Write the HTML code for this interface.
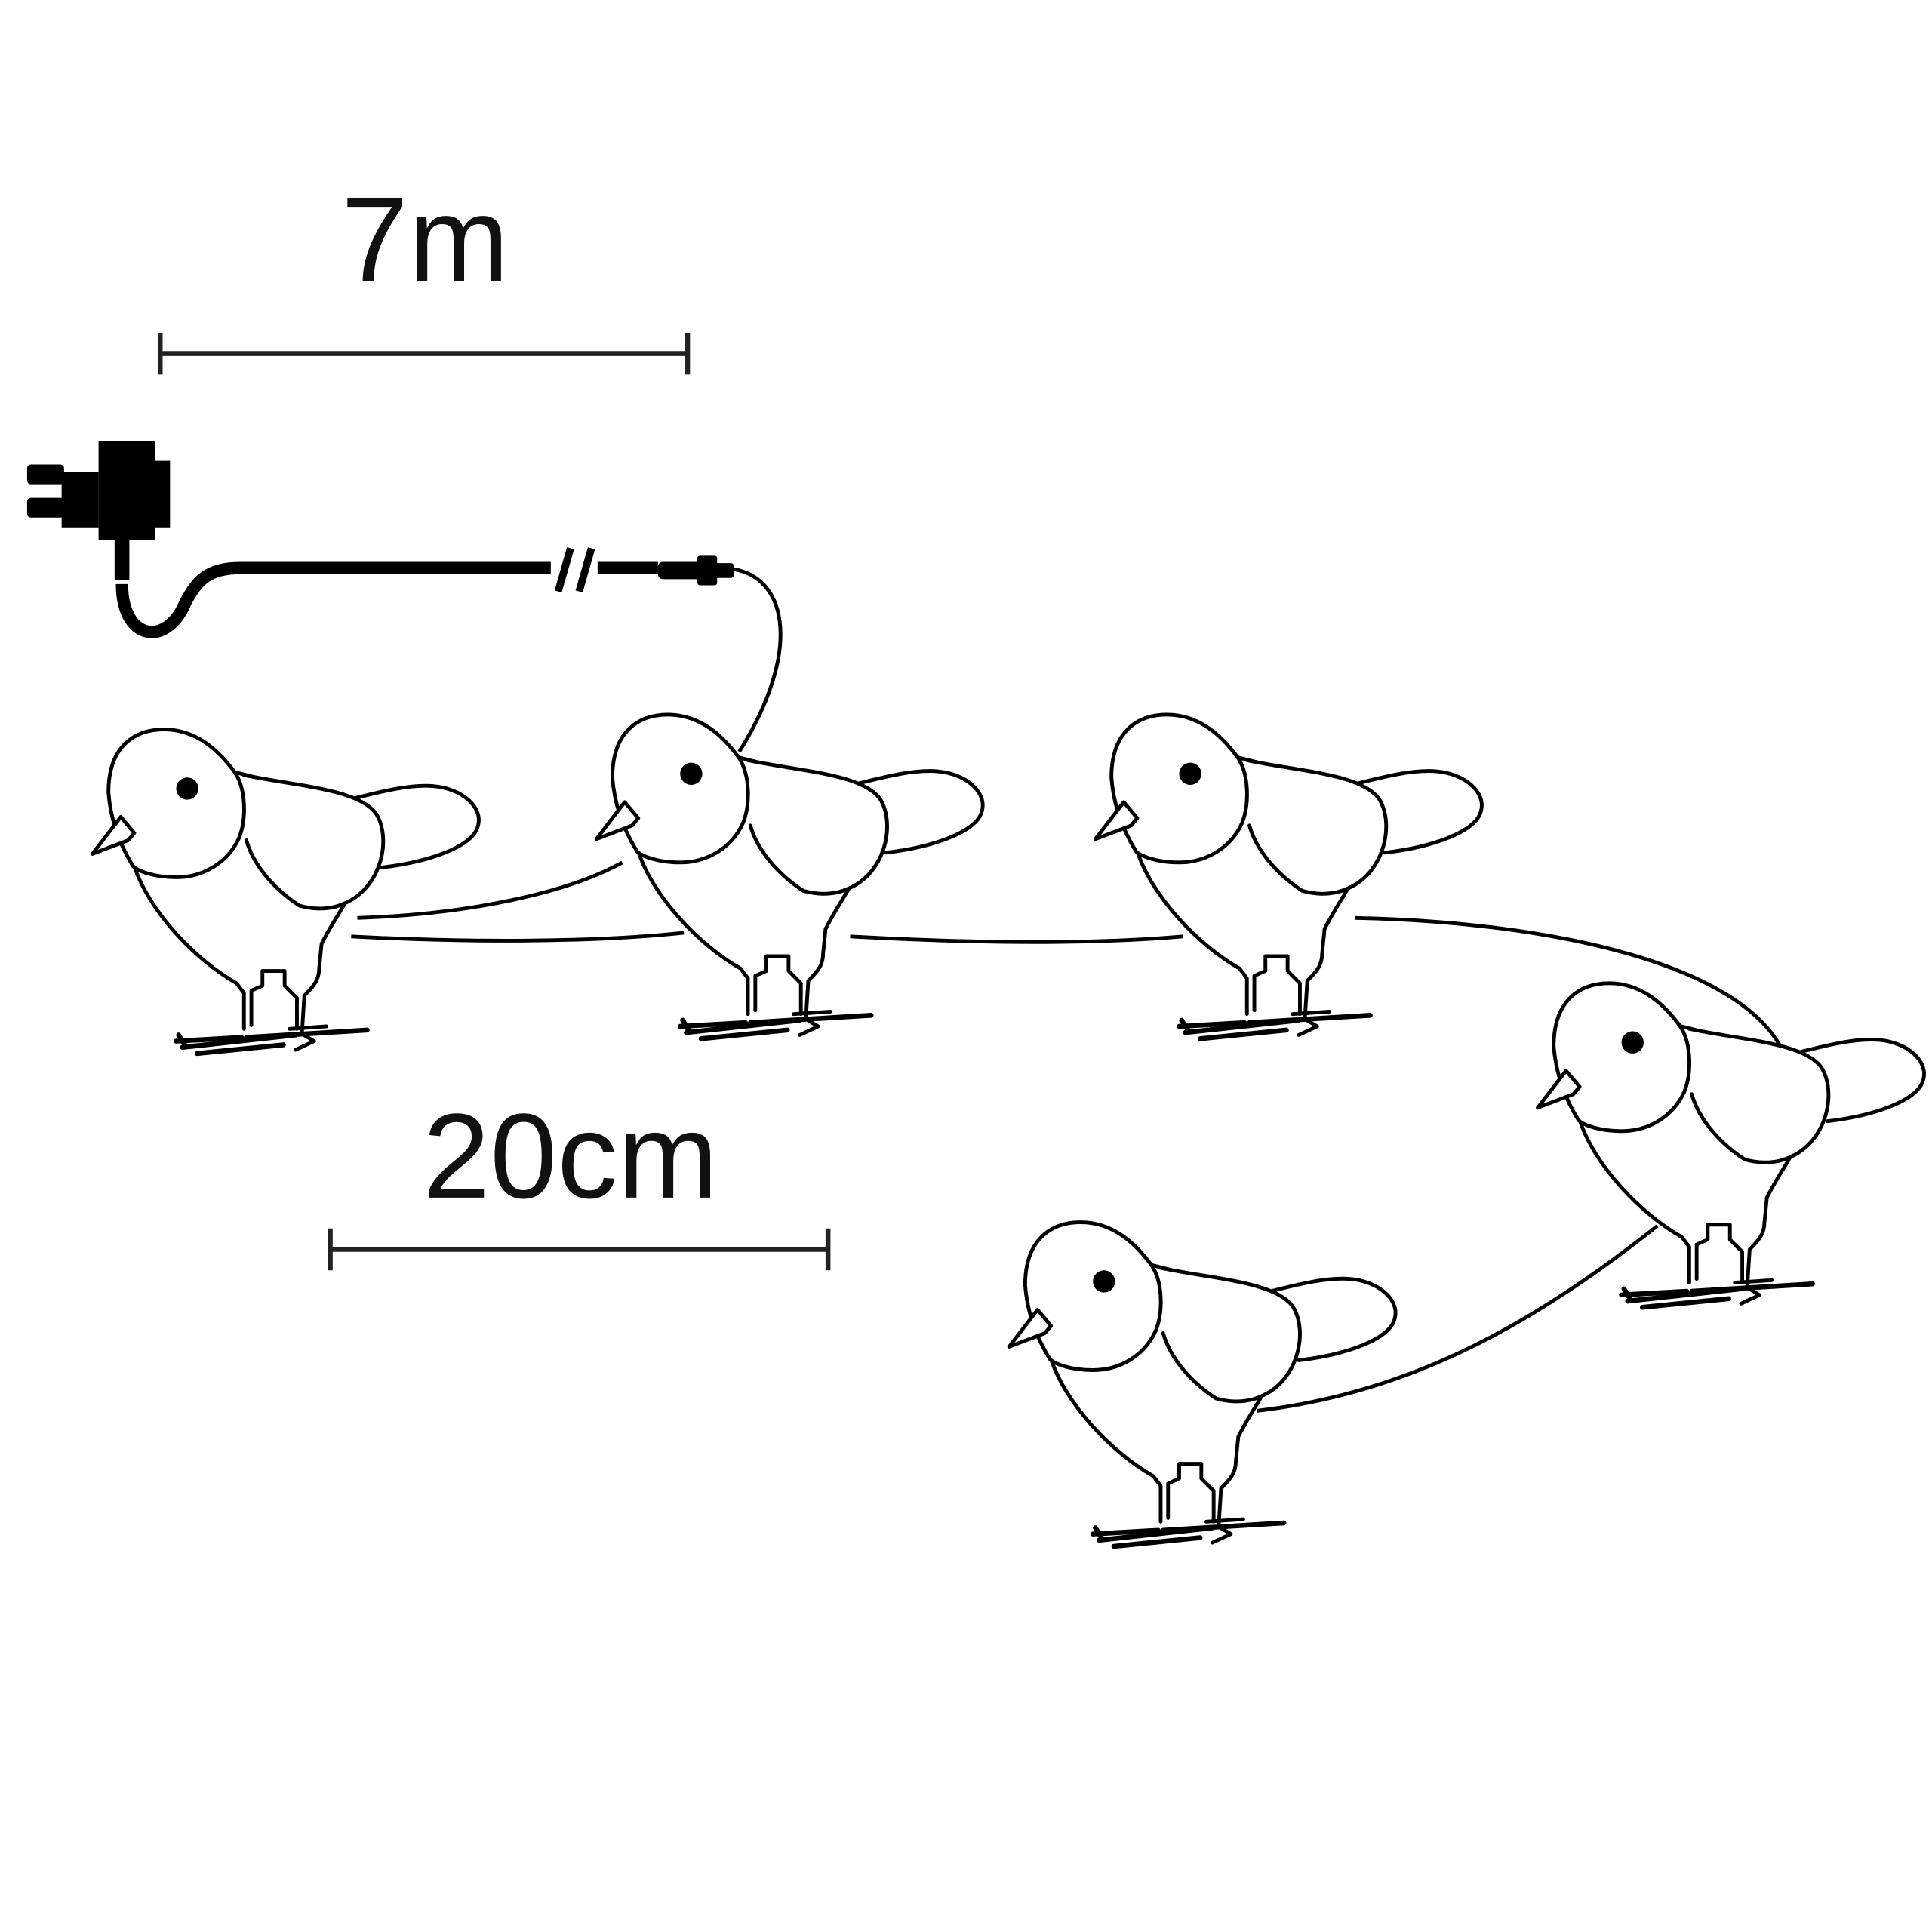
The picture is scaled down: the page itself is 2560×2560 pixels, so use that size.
<!DOCTYPE html>
<html><head><meta charset="utf-8"><style>html,body{margin:0;padding:0;background:#fff}svg{display:block}</style></head>
<body>
<svg width="2560" height="2560" viewBox="0 0 1568 1568" xmlns="http://www.w3.org/2000/svg">
<defs>
<g id="bird" fill="none" stroke="#000" stroke-width="3" stroke-linejoin="round" stroke-linecap="round">
  <path d="M275 651 C300 645 330 636 352 638 C375 640 392 655 388 670 C384 688 345 700 310 704" fill="#fff"/>
  <path d="M108 700 C120 740 160 780 192 798 L198 806 L198 835 M204 832 L204 804 L213 800 L213 788 L231 788 L231 800 L241 810 L241 835 M245 839 L247 808 C255 800 259 795 259 786 L261 766 C268 752 275 742 280 733"/>
  <path d="M245 839 L255 845 L240 852"/>
  <path d="M188 626 C215 633 245 640 278 651"/>
  <path d="M198 629 C240 638 290 640 305 660 C318 680 310 720 280 733 C265 740 250 737 243 735 C220 720 205 700 200 682" fill="#fff"/>
  <path d="M108 703 C100 690 90 670 88 643 C88 605 110 592 133 592 C160 592 178 610 190 626 C200 640 200 665 194 680 C185 700 165 712 143 712 C125 712 112 707 108 703 Z" fill="#fff"/>
  <path d="M104 682 L109 676 L98 663 L75 693 Z" fill="#fff"/>
  <circle cx="152" cy="640" r="9" fill="#000" stroke="none"/>
  <g stroke-width="4">
    <path d="M143 845 L196 842"/><path d="M148 850 L240 840"/><path d="M160 855 L230 848"/>
    <path d="M200 842 L298 836"/><path d="M150 848 L145 840"/>
  </g>
  <path d="M235 835 L265 833"/>
</g>
</defs>

<text x="345" y="228" font-family="Liberation Sans, Arial, sans-serif" font-size="98" text-anchor="middle" fill="#111">7m</text>
<g stroke="#222" stroke-width="4"><path d="M130 287 L558 287"/><path d="M130 270 L130 304"/><path d="M558 270 L558 304"/></g>

<g fill="#000">
  <rect x="80" y="358" width="46" height="80"/>
  <rect x="126" y="374" width="12" height="54"/>
  <rect x="50" y="383" width="30" height="45"/>
  <rect x="22" y="377" width="30" height="16" rx="3"/>
  <rect x="22" y="404" width="30" height="16" rx="3"/>
  <rect x="93" y="438" width="12" height="33"/>
  <rect x="534" y="456" width="44" height="14" rx="4"/>
  <rect x="566" y="451" width="16" height="24" rx="2"/>
  <rect x="578" y="457" width="18" height="12" rx="3"/>
</g>
<g fill="none" stroke="#000" stroke-width="10" stroke-linecap="butt">
  <path d="M99 474 C99 520 135 525 150 490 C160 470 170 461 195 461 L447 461"/>
  <path d="M485 461 L534 461"/>
  <path d="M453 480 L463 445 M470 480 L480 445" stroke-width="6"/>
</g>
<path d="M596 462 C640 470 650 530 600 610" fill="none" stroke="#000" stroke-width="3"/>

<g fill="none" stroke="#000" stroke-width="3">
  <path d="M290 745 C380 742 460 725 505 700"/>
  <path d="M285 760 C380 765 480 765 555 757"/>
  <path d="M690 760 C780 765 880 767 960 760"/>
  <path d="M1100 745 C1250 748 1420 780 1450 860"/>
  <path d="M1345 995 C1250 1070 1150 1130 1020 1145"/>
</g>

<use href="#bird"/>
<use href="#bird" transform="translate(409,-12)"/>
<use href="#bird" transform="translate(814,-12)"/>
<use href="#bird" transform="translate(1173,206)"/>
<use href="#bird" transform="translate(744,400)"/>

<text x="463" y="972" font-family="Liberation Sans, Arial, sans-serif" font-size="98" text-anchor="middle" fill="#111">20cm</text>
<g stroke="#222" stroke-width="4"><path d="M268 1014 L672 1014"/><path d="M268 997 L268 1031"/><path d="M672 997 L672 1031"/></g>
</svg>
</body></html>
